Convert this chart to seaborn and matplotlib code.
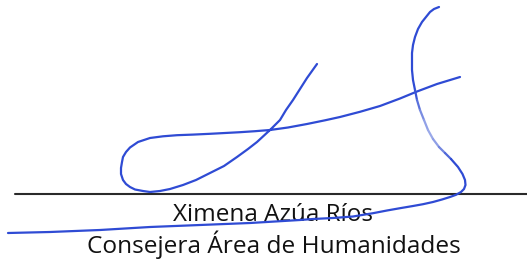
import matplotlib
matplotlib.use('Agg')
import matplotlib.pyplot as plt
import seaborn as sb
import numpy as np

# signature strokes (pixel coords, y downwards)
loop_x = [317, 312, 307, 300, 293, 286, 280, 270, 257, 248, 237, 224, 210, 196, 183,
          170, 160, 150, 143, 135, 130, 126, 123, 121, 121, 122, 123, 126, 130, 138,
          150, 163, 177, 193, 210, 225, 240, 255, 270, 288, 307, 325, 340, 360, 380,
          400, 417, 437, 460]
loop_y = [64, 71, 78, 89, 100, 110, 120, 130, 142, 149, 157, 166, 173, 180, 185,
          189, 191, 192, 191, 189.5, 187, 184, 180, 174, 168, 162, 157, 152, 147.5, 142,
          138, 136.3, 135.2, 134.6, 133.8, 133, 132.2, 131.2, 130, 127.5, 124, 120.3, 117, 111.8, 106,
          98.5, 91.5, 84, 77]

s_top_x = [439, 434, 430, 426, 422, 418, 415, 413, 412, 412, 412, 413, 415]
s_top_y = [7, 9, 12, 17, 22, 29, 37, 45, 53, 62, 70, 80, 90]
s_mid_x = [415, 417, 420, 424, 428, 433, 439, 445, 451]
s_mid_y = [90, 100, 110, 120, 130, 139, 147, 153, 159]
s_tail_x = [451, 458, 462.5, 465, 465.5, 464, 461, 456, 450, 442, 433, 423, 413, 400,
            387, 373, 353, 333, 313, 300, 250, 200, 150, 100, 50, 8]
s_tail_y = [159, 167, 174, 180, 185, 189, 192, 194.8, 197, 199.5, 202, 204.2, 206, 208.2,
            210.5, 213.2, 216.5, 218, 219, 220, 223, 225, 227, 230, 232, 233]

rule_y = 194
name = 'Ximena Azúa Ríos'
role = 'Consejera Área de Humanidades'

ink = '#2f4bd4'
# the pen ran light on the middle of the long stroke
fade = ['#3a55d6', '#5a71dc', '#7a8de2', '#91a1e7', '#9aa9e9', '#8f9fe6', '#7386e0', '#5068d9']

fig = plt.figure(figsize=(5.27, 2.59), dpi=100)
ax = fig.add_axes([0, 0, 1, 1])
ax.set_xlim(0, 527)
ax.set_ylim(259, 0)
ax.set_axis_off()

# signature line
ax.plot([15, 527], [rule_y, rule_y], color='#2a2a2a', lw=1.5, zorder=1)

# name / role, sized so widths match the scan
def fit_text(s, cx, base, width):
    t = ax.text(cx, base, s, ha='center', va='baseline', family='Open Sans',
                fontsize=14, color='#111111', zorder=2)
    r = fig.canvas.get_renderer()
    w = t.get_window_extent(r).width
    t.set_fontsize(14 * width / w)
    return t

fit_text(name, 273, 221, 201)
fit_text(role, 274, 253, 376)

kw = dict(sort=False, estimator=None, lw=1.6, ax=ax, legend=False)
sb.lineplot(x=loop_x, y=loop_y, color=ink, **kw)
sb.lineplot(x=s_top_x, y=s_top_y, color=ink, **kw)
for i in range(len(s_mid_x) - 1):
    sb.lineplot(x=s_mid_x[i:i + 2], y=s_mid_y[i:i + 2], color=fade[i], **kw)
sb.lineplot(x=s_tail_x, y=s_tail_y, color=ink, **kw)
for l in ax.lines:
    l.set_solid_capstyle('round')
    l.set_solid_joinstyle('round')

fig.savefig('out.png', dpi=100)
